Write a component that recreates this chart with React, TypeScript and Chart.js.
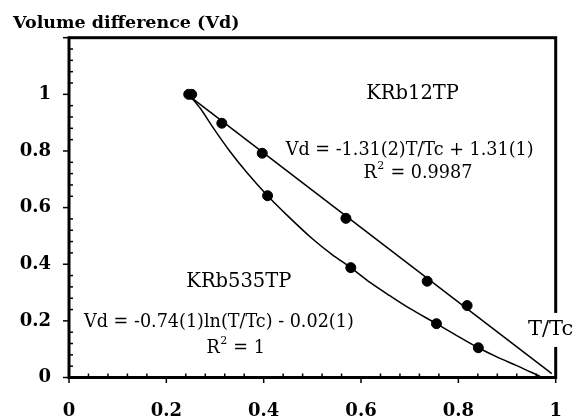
import React, { useEffect, useRef } from 'react';
import { Chart, registerables } from 'chart.js';

Chart.register(...registerables);

// KRb12TP measured points
const krb12T = [0.252, 0.314, 0.397, 0.569, 0.736, 0.818];
const krb12Vd = [1.0, 0.898, 0.792, 0.562, 0.34, 0.254];
// KRb12TP linear fit line end points
const fit12T = [0.25, 0.992];
const fit12Vd = [0.99, 0.014];

// KRb535TP measured points
const krb535T = [0.246, 0.408, 0.579, 0.755, 0.841];
const krb535Vd = [1.0, 0.642, 0.388, 0.19, 0.105];
// KRb535TP fitted curve
const curve535T = [0.246, 0.27, 0.295, 0.33, 0.365, 0.408, 0.45, 0.5, 0.54, 0.579, 0.62, 0.66, 0.7, 0.755, 0.79, 0.841, 0.88, 0.92, 0.968];
const curve535Vd = [1.0, 0.95, 0.885, 0.8, 0.725, 0.642, 0.57, 0.49, 0.435, 0.388, 0.334, 0.288, 0.244, 0.19, 0.155, 0.105, 0.072, 0.042, 0.004];

const yTitle = 'Volume difference (Vd)';
const xTitle = 'T/Tc';
const label12 = 'KRb12TP';
const eq12 = 'Vd = -1.31(2)T/Tc + 1.31(1)';
const r2_12 = ' = 0.9987';
const label535 = 'KRb535TP';
const eq535 = 'Vd = -0.74(1)ln(T/Tc) - 0.02(1)';
const r2_535 = ' = 1';

const FAM = '"DejaVu Serif", serif';

function drawR2(ctx: CanvasRenderingContext2D, rest: string, cx: number, cy: number, size: number) {
  const f = `${size}px ${FAM}`;
  const fs = `${Math.round(size * 0.62)}px ${FAM}`;
  ctx.font = f;
  const wR = ctx.measureText('R').width;
  const wRest = ctx.measureText(rest).width;
  ctx.font = fs;
  const w2 = ctx.measureText('2').width;
  const total = wR + w2 + 1 + wRest;
  let x = cx - total / 2;
  ctx.textAlign = 'left';
  ctx.textBaseline = 'middle';
  ctx.font = f;
  ctx.fillText('R', x, cy);
  x += wR + 0.5;
  ctx.font = fs;
  ctx.fillText('2', x, cy - size * 0.45);
  x += w2 + 0.5;
  ctx.font = f;
  ctx.fillText(rest, x, cy);
}

const fmt = (v: any) => String(Math.round(Number(v) * 10) / 10);

const decorPlugin = {
  id: 'decor',
  afterDatasetsDraw(chart: any) {
    const { ctx, chartArea, scales } = chart;
    const { left, right, top, bottom } = chartArea;
    const xs = scales.x;
    const ys = scales.y;
    ctx.save();
    ctx.strokeStyle = '#000';
    ctx.fillStyle = '#000';
    // frame
    ctx.lineWidth = 3;
    ctx.strokeRect(left, top, right - left, bottom - top);
    // ticks
    ctx.lineWidth = 1.5;
    for (let i = 0; i <= 30; i++) {
      const v = i * 0.04;
      const py = ys.getPixelForValue(v);
      ctx.beginPath();
      if (i % 5 === 0) {
        ctx.moveTo(left - 6, py);
        ctx.lineTo(left, py);
      } else {
        ctx.moveTo(left, py);
        ctx.lineTo(left + 4, py);
      }
      ctx.stroke();
    }
    for (let i = 0; i <= 25; i++) {
      const v = i * 0.04;
      const px = xs.getPixelForValue(v);
      ctx.beginPath();
      if (i % 5 === 0) {
        ctx.moveTo(px, bottom);
        ctx.lineTo(px, bottom + 5.5);
      } else {
        ctx.moveTo(px, bottom - 4);
        ctx.lineTo(px, bottom);
      }
      ctx.stroke();
    }
    // y title
    ctx.font = `bold 17.5px ${FAM}`;
    ctx.textAlign = 'left';
    ctx.textBaseline = 'alphabetic';
    ctx.fillText(yTitle, 13, 28);

    // x title with white background
    ctx.font = `21px ${FAM}`;
    ctx.textBaseline = 'middle';
    const tx = xs.getPixelForValue(0.943);
    const ty = ys.getPixelForValue(0.168);
    const tw = ctx.measureText(xTitle).width;
    ctx.fillStyle = '#fff';
    ctx.fillRect(tx - 2, ty - 17, tw + 4, 34);
    ctx.fillStyle = '#000';
    ctx.fillText(xTitle, tx, ty);

    // annotations
    const size = 17.6;
    ctx.textAlign = 'center';
    ctx.textBaseline = 'middle';
    ctx.font = `19.5px ${FAM}`;
    ctx.fillText(label12, xs.getPixelForValue(0.706), ys.getPixelForValue(1.0));
    ctx.fillText(label535, xs.getPixelForValue(0.349), ys.getPixelForValue(0.337));
    ctx.font = `${size}px ${FAM}`;
    ctx.fillText(eq12, xs.getPixelForValue(0.7), ys.getPixelForValue(0.803));
    ctx.fillText(eq535, xs.getPixelForValue(0.308), ys.getPixelForValue(0.195));
    drawR2(ctx, r2_12, xs.getPixelForValue(0.717), ys.getPixelForValue(0.72), size);
    drawR2(ctx, r2_535, xs.getPixelForValue(0.3425), ys.getPixelForValue(0.101), size);
    ctx.restore();
  },
};

export default function App() {
  const ref = useRef<HTMLCanvasElement>(null);
  useEffect(() => {
    const canvas = ref.current;
    if (!canvas) return;
    const pts = (xv: number[], yv: number[]) => xv.map((x, i) => ({ x, y: yv[i] }));
    Chart.defaults.font.family = FAM;
    Chart.defaults.color = '#000';
    const chart = new Chart(canvas, {
      type: 'scatter',
      data: {
        datasets: [
          {
            data: pts(fit12T, fit12Vd),
            showLine: true,
            borderColor: '#000',
            borderWidth: 1.5,
            pointRadius: 0,
            tension: 0,
          },
          {
            data: pts(curve535T, curve535Vd),
            showLine: true,
            borderColor: '#000',
            borderWidth: 1.5,
            pointRadius: 0,
            cubicInterpolationMode: 'monotone',
          },
          {
            data: pts(krb12T, krb12Vd),
            pointRadius: 5,
            backgroundColor: '#000',
            borderColor: '#000',
          },
          {
            data: pts(krb535T, krb535Vd),
            pointRadius: 5,
            backgroundColor: '#000',
            borderColor: '#000',
          },
        ],
      } as any,
      options: {
        animation: false,
        responsive: false,
        devicePixelRatio: 1,
        layout: { padding: { left: 0, top: 37.7, right: 27.3, bottom: 0 } },
        plugins: { legend: { display: false }, tooltip: { enabled: false } },
        scales: {
          x: {
            type: 'linear',
            min: 0,
            max: 1,
            grid: { display: false },
            border: { display: false },
            ticks: { stepSize: 0.2, padding: 15, font: { size: 18, weight: 'bold', family: FAM }, color: '#000', callback: fmt },
            afterFit: (s: any) => { s.height = 41.5; s.paddingLeft = 0; s.paddingRight = 0; },
          },
          y: {
            type: 'linear',
            min: 0,
            max: 1.2,
            grid: { display: false },
            border: { display: false },
            ticks: {
              stepSize: 0.2,
              padding: 10,
              font: { size: 18, weight: 'bold', family: FAM },
              color: '#000',
              callback: (v: any) => (Number(v) > 1.01 ? '' : fmt(v)),
            },
            afterFit: (s: any) => { s.width = 69; s.paddingTop = 0; s.paddingBottom = 0; },
          },
        },
      } as any,
      plugins: [decorPlugin],
    });
    return () => chart.destroy();
  }, []);
  return (
    <div style={{ position: 'absolute', left: 0, top: 0, width: 583, height: 419, background: '#fff' }}>
      <canvas ref={ref} width={583} height={419} style={{ display: 'block' }} />
    </div>
  );
}
